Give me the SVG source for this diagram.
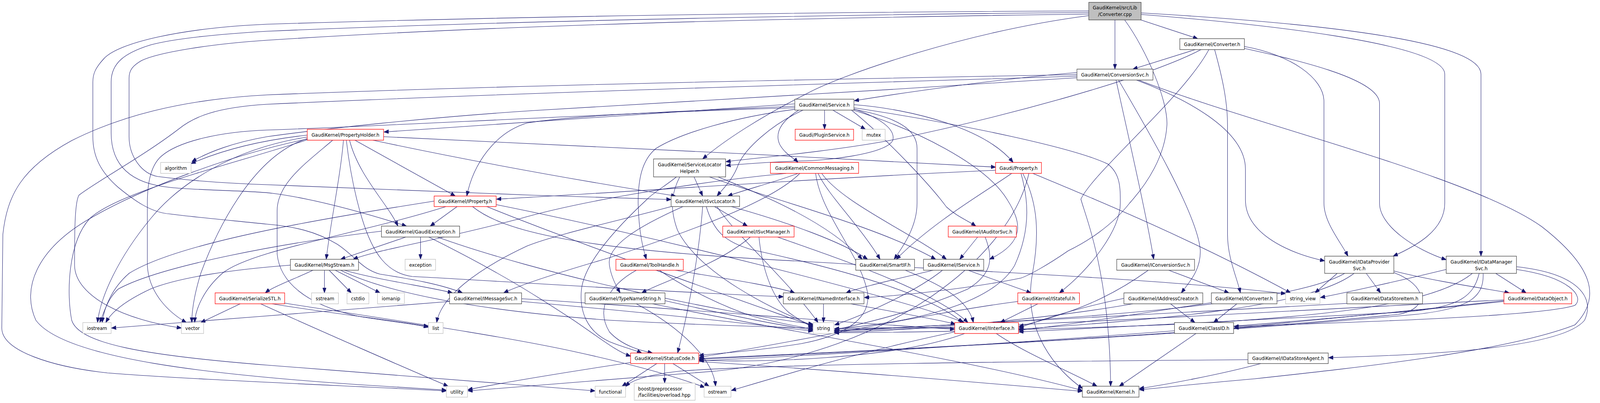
<svg xmlns="http://www.w3.org/2000/svg" width="4463" height="1032" viewBox="0 0 4463 1032">
<style>
rect{fill:#fff;stroke:#404040;stroke-width:1.3}
.r rect{stroke:#ff0000}
.g rect{stroke:#bfbfbf}
.root rect{fill:#bfbfbf}
text{font-family:"DejaVu Sans","Liberation Sans",sans-serif;font-size:12.8px;text-anchor:middle;fill:#000}
.l text{text-anchor:start}
#edges path{fill:none;stroke:#191970;stroke-width:1.1;marker-end:url(#a)}
</style>
<defs>
<marker id="a" viewBox="0 0 13 10" refX="13" refY="5" markerWidth="13" markerHeight="10" markerUnits="userSpaceOnUse" orient="auto"><path d="M0,0 L13,5 L0,10 z" fill="#191970" stroke="#191970" stroke-width="1"/></marker>
</defs>
<rect x="0" y="0" width="4463" height="1032" style="fill:#fff;stroke:none"/>
<g id="diagram" transform="scale(0.91777,1)">
<g id="edges">
<path d="M3182,51 L3341,99"/>
<path d="M3110,51 L3110,177"/>
<path d="M3183,33 C3500,50 4131,90 4131,190 L4131,656"/>
<path d="M3183,37 C3500,60 4030,110 4030,190 L4030,520 C4030,590 3950,630 3886,656"/>
<path d="M3037,40 C2700,80 2350,190 2250,240 C2120,300 2020,360 1960,407"/>
<path d="M3037,32 C2500,36 1500,50 745,80 C600,88 480,100 420,115 C350,135 310,160 310,210 L310,340 C310,420 360,470 475,480 C560,488 700,488 760,495 C870,508 1000,540 1134,579"/>
<path d="M3037,36 C2400,44 1500,58 745,103 C580,113 440,135 395,155 C370,168 360,180 360,200 L360,350 C360,400 395,445 440,452 C550,465 650,470 745,473 L1490,500 C1700,505 1800,508 1872,511"/>
<path d="M3037,28 C2400,30 1500,40 745,62 C500,72 330,110 290,150 C265,175 259,190 259,210 L259,350 C259,400 280,440 330,480 C370,510 420,545 475,548 C530,555 650,565 745,574 C820,580 880,592 940,625 C990,655 1010,690 1060,702 C1150,715 1230,728 1290,750"/>
<path d="M3137,51 C3200,130 3258,260 3255,320 C3250,400 3200,470 3151,520 C3100,580 3030,620 2980,642 C2920,680 2870,705 2848,712 C2700,740 2500,758 2411,762"/>
<path d="M3334,127 L3160,177"/>
<path d="M3388,127 C3410,200 3424,260 3424,320 L3424,600 C3424,660 3450,710 3460,750"/>
<path d="M3471,119 C3600,140 3693,200 3693,260 L3693,520 C3693,570 3740,620 3760,656"/>
<path d="M3471,124 C3600,150 3848,200 3848,265 L3848,520 C3848,580 3950,640 4034,665"/>
<path d="M3350,127 C3200,200 2800,300 2480,360 C2300,390 2100,405 2025,414"/>
<path d="M3372,127 C3300,250 3050,440 3015,510 C3030,560 3095,700 3098,989"/>
<path d="M3004,186 C2800,200 2500,240 2383,258"/>
<path d="M3004,191 C2500,200 1500,215 745,243 C500,255 330,300 200,360 C60,430 20,500 8,600 L5,840 C5,900 150,940 300,955 C500,970 900,985 1245,1001"/>
<path d="M3004,195 C2500,210 1500,235 745,267 C600,275 540,300 499,330 C400,400 260,470 220,500 C208,520 208,600 208,680 C210,760 350,820 506,840"/>
<path d="M3004,199 C2500,230 1900,260 1490,283 C1200,300 900,330 745,350 C650,365 580,390 535,414"/>
<path d="M3113,205 C3150,360 3200,560 3218,664"/>
<path d="M3120,205 C3200,330 3340,550 3348,640 C3350,690 3320,720 3295,750"/>
<path d="M3170,205 C3300,250 3474,330 3474,433 L3474,512 C3474,600 3600,650 3695,668"/>
<path d="M3176,205 C3500,320 4100,450 4300,580 C4440,680 4470,760 4393,832 C4200,900 3800,940 3500,970 C3350,982 3250,992 3178,998"/>
<path d="M2300,282 L2300,331"/>
<path d="M2323,282 L2414,331"/>
<path d="M2382,268 C2550,280 2750,330 2826,416"/>
<path d="M2382,276 C2700,320 3000,380 3090,420 C3125,445 3125,480 3125,520 C3125,590 3040,690 2955,750"/>
<path d="M2382,280 C2500,300 2558,330 2558,380 L2558,520 C2558,580 2520,630 2494,664"/>
<path d="M2375,282 C2480,360 2600,480 2640,530 C2670,555 2700,565 2722,579"/>
<path d="M2380,282 C2550,330 2750,420 2810,512 C2850,570 2860,620 2760,664"/>
<path d="M2228,282 C2180,310 2160,340 2175,370 C2190,395 2215,405 2226,416"/>
<path d="M2217,266 C1900,285 1500,310 1071,338"/>
<path d="M2382,279 C2450,300 2500,330 2490,360 C2470,395 2300,412 2235,412 C2150,415 2070,420 2025,424"/>
<path d="M2240,282 C2150,320 2080,380 2060,420 C2045,460 2015,485 2000,502"/>
<path d="M2217,280 C2050,300 1900,340 1830,380 C1790,410 1780,460 1780,520 C1782,600 1795,640 1803,664"/>
<path d="M2217,272 C1900,285 1600,295 1470,315 C1380,340 1320,420 1302,502"/>
<path d="M2217,276 C1700,290 1100,322 745,333 C620,337 500,360 450,400 C425,420 411,460 411,520 L411,680 C415,750 470,800 520,826"/>
<path d="M1070,350 C1500,367 2235,400 2777,428"/>
<path d="M990,359 L1270,502"/>
<path d="M975,359 C1000,450 1080,520 1110,579"/>
<path d="M958,359 C950,450 920,580 910,664"/>
<path d="M1040,359 C1300,410 1600,460 1885,502"/>
<path d="M966,359 C975,430 990,500 1010,560 C1040,650 1080,700 1150,708 C1400,720 1800,745 2185,760"/>
<path d="M928,359 C850,420 773,470 773,540 L773,650 C780,720 850,780 1000,810 C1100,825 1160,830 1195,838"/>
<path d="M857,346 C700,362 600,392 533,419"/>
<path d="M857,351 C650,380 500,470 420,560 C330,660 280,760 272,826"/>
<path d="M857,355 C700,400 600,600 560,700 C540,760 535,800 535,826"/>
<path d="M857,356 C650,395 400,480 250,560 C100,640 60,740 100,820 C180,920 600,960 1000,985 C1100,991 1200,996 1245,999"/>
<path d="M857,358 C650,420 330,490 250,560 C190,620 185,750 200,820 C220,880 400,910 745,935 C1100,960 1500,990 1660,1001"/>
<path d="M1936,453 L1960,502"/>
<path d="M1887,453 C1850,480 1820,495 1803,512 C1700,600 1630,680 1622,740 C1615,800 1640,850 1700,875 C1740,890 1770,896 1790,904"/>
<path d="M1896,453 C1870,500 1870,540 1890,590 C1950,700 2150,790 2270,835"/>
<path d="M2003,453 C2100,490 2300,560 2405,664"/>
<path d="M1979,453 C2150,510 2450,580 2610,664"/>
<path d="M1993,529 L2085,579"/>
<path d="M1905,529 C1780,580 1690,630 1700,680 C1705,710 1720,735 1730,750"/>
<path d="M2040,529 C2200,570 2350,620 2420,664"/>
<path d="M1970,529 C1990,590 2020,620 2100,640 C2400,700 2600,760 2685,826"/>
<path d="M1960,529 C1950,650 1920,800 1890,904"/>
<path d="M2000,529 C2050,600 2200,720 2282,826"/>
<path d="M1880,527 C1750,560 1550,600 1470,630 C1330,690 1230,760 1218,826"/>
<path d="M2093,607 C2000,680 1850,720 1790,750"/>
<path d="M2117,607 C2125,680 2150,760 2200,800 C2230,820 2250,830 2268,838"/>
<path d="M2169,607 C2300,650 2600,740 2700,826"/>
<path d="M1775,778 C1900,840 1990,920 1996,989"/>
<path d="M1855,770 C2000,800 2150,830 2268,845"/>
<path d="M1820,778 C2200,850 2700,920 3019,1000"/>
<path d="M1884,692 C2000,710 2150,730 2217,750"/>
<path d="M1839,692 C1900,730 2000,780 2100,810 C2180,830 2230,836 2268,843"/>
<path d="M1775,692 C1700,730 1660,790 1700,850 C1740,890 1800,900 1820,904"/>
<path d="M2226,444 C2150,470 2080,485 2030,502"/>
<path d="M2193,444 C1900,470 1600,520 1450,560 C1200,620 1050,640 985,664"/>
<path d="M2231,444 C2150,520 1900,600 1700,660 C1550,700 1450,730 1405,750"/>
<path d="M2282,444 C2310,500 2400,580 2455,664"/>
<path d="M2292,444 C2350,520 2550,600 2640,664"/>
<path d="M2275,444 C2290,550 2400,650 2420,750 C2430,820 2350,860 2235,880 C2100,900 2000,905 1950,910"/>
<path d="M2777,436 C2300,455 1700,495 1385,510"/>
<path d="M2822,444 C2750,490 2600,570 2500,664"/>
<path d="M2848,444 C2865,500 2880,580 2830,680 C2760,790 2500,830 2328,842"/>
<path d="M2853,444 C2895,520 2900,600 2880,700 C2850,850 2950,950 3020,995"/>
<path d="M2881,444 C3000,490 3300,600 3600,750"/>
<path d="M2870,444 C2820,650 2500,900 2000,950 C1700,970 1450,990 1305,1001"/>
<path d="M1275,529 L1200,579"/>
<path d="M1211,515 C900,560 500,620 360,700 C310,740 290,790 285,826"/>
<path d="M1244,529 C1000,600 700,640 620,700 C570,740 545,790 543,826"/>
<path d="M1384,524 C1800,600 2500,760 2690,826"/>
<path d="M1358,529 C1600,620 2100,780 2268,835"/>
<path d="M1318,529 C1400,590 1600,640 2235,669 C2600,690 3200,710 3586,752"/>
<path d="M1132,607 L950,664"/>
<path d="M1173,607 L1173,664"/>
<path d="M1064,592 C800,620 450,680 330,740 C300,765 290,800 278,826"/>
<path d="M1220,607 C1500,700 2000,800 2268,830"/>
<path d="M1196,607 C1400,700 1500,760 1600,820 C1680,870 1720,900 1759,912"/>
<path d="M960,692 C1060,718 1200,735 1262,750"/>
<path d="M873,692 C820,715 760,735 740,750"/>
<path d="M905,692 L905,750"/>
<path d="M918,692 L980,750"/>
<path d="M935,692 L1060,750"/>
<path d="M950,692 C1100,760 1400,800 1700,820 C2000,835 2200,838 2268,840"/>
<path d="M810,679 C650,690 500,710 420,740 C350,770 310,800 295,826"/>
<path d="M670,778 L560,826"/>
<path d="M727,778 C900,850 1150,950 1250,989"/>
<path d="M759,778 C900,800 1100,820 1195,836"/>
<path d="M792,776 C1100,820 1400,860 1600,900 C1800,940 1900,970 1966,992"/>
<path d="M1254,772 C1000,790 600,820 311,840"/>
<path d="M1455,765 C1900,790 2400,830 2663,843"/>
<path d="M1455,772 C1800,800 2100,830 2268,848"/>
<path d="M2297,778 L2297,826"/>
<path d="M2373,778 C2500,800 2600,815 2665,830"/>
<path d="M2603,692 C2500,715 2400,735 2360,750"/>
<path d="M2629,692 C2550,750 2400,810 2328,832"/>
<path d="M2700,692 L2876,750"/>
<path d="M2525,692 C2600,720 2700,760 2715,826"/>
<path d="M2727,607 L2677,664"/>
<path d="M2748,607 C2770,660 2770,700 2700,740 C2550,800 2400,830 2328,845"/>
<path d="M2895,778 L2790,826"/>
<path d="M2839,772 C2600,800 2200,880 1950,915"/>
<path d="M2779,854 C2850,900 2980,950 3060,989"/>
<path d="M2691,854 C2500,920 2100,930 1950,922"/>
<path d="M2663,850 C2400,900 2150,970 2040,1000"/>
<path d="M2663,840 C2500,838 2400,840 2327,842"/>
<path d="M1832,931 L1735,989"/>
<path d="M1854,931 L1854,981"/>
<path d="M1877,931 L1978,989"/>
<path d="M1761,928 C1600,950 1400,980 1305,998"/>
<path d="M1949,926 C2300,945 2800,985 3019,1002"/>
<path d="M3260,692 L3428,750"/>
<path d="M3203,692 C3100,760 3000,800 2842,836"/>
<path d="M3450,778 L3385,826"/>
<path d="M3379,775 C3200,800 3000,830 2842,846"/>
<path d="M3265,778 L3333,826"/>
<path d="M3135,764 C3000,790 2900,820 2842,840"/>
<path d="M3160,778 C2900,820 2500,850 2327,850"/>
<path d="M3336,854 L3122,989"/>
<path d="M3517,931 C3400,960 3250,985 3178,995"/>
<path d="M3481,921 C3000,925 2200,930 1900,950 C1800,960 1760,975 1745,990"/>
<path d="M3811,700 L3851,750"/>
<path d="M3888,694 C4000,720 4150,740 4210,750"/>
<path d="M3730,700 L3668,750"/>
<path d="M3751,700 C3600,780 3000,820 2327,846"/>
<path d="M3777,700 C3650,790 3200,820 2842,843"/>
<path d="M3888,698 C3980,730 3990,790 3900,805 C3300,860 2400,900 1950,918"/>
<path d="M4172,700 L4257,750"/>
<path d="M4230,683 C4400,700 4450,760 4420,820 C4350,900 3900,910 3706,916"/>
<path d="M4034,690 C3900,720 3750,750 3683,762"/>
<path d="M4230,690 C4380,710 4420,760 4393,782 C4300,810 3800,825 3442,836"/>
<path d="M4126,700 C4110,760 4070,790 3900,800 C3500,820 3000,840 2842,850"/>
<path d="M4107,700 C4000,780 3700,810 3300,830 C2900,845 2500,852 2327,852"/>
<path d="M4137,700 C4140,760 4100,790 3950,805 C3300,860 2400,900 1950,920"/>
<path d="M3757,777 C3300,800 2700,830 2327,848"/>
<path d="M4195,770 C3900,800 3600,825 3442,840"/>
<path d="M4195,772 C3500,840 2500,900 1950,924"/>
<path d="M4195,768 C3500,800 2800,840 2327,846"/>
</g>
<g id="n1" class="root"><rect x="3037" y="6" width="146" height="45"/><text x="3110" y="24">GaudiKernel/src/Lib</text><text x="3110" y="41">/Converter.cpp</text></g>
<g id="n2"><rect x="3291" y="99" width="180" height="28"/><text x="3381" y="117.6">GaudiKernel/Converter.h</text></g>
<g id="n3"><rect x="3004" y="177" width="212" height="28"/><text x="3110" y="195.6">GaudiKernel/ConversionSvc.h</text></g>
<g id="n4"><rect x="2217" y="254" width="165" height="28"/><text x="2299.5" y="272.6">GaudiKernel/Service.h</text></g>
<g id="n5" class="r"><rect x="857" y="331" width="213" height="28"/><text x="963.5" y="349.6">GaudiKernel/PropertyHolder.h</text></g>
<g id="n6"><rect x="1823" y="407" width="201" height="46"/><text x="1923.5" y="426">GaudiKernel/ServiceLocator</text><text x="1923.5" y="443">Helper.h</text></g>
<g id="n7"><rect x="1872" y="502" width="191" height="27"/><text x="1967.5" y="520">GaudiKernel/ISvcLocator.h</text></g>
<g id="n8" class="r"><rect x="2218" y="331" width="163" height="28"/><text x="2299.5" y="349.6">Gaudi/PluginService.h</text></g>
<g id="n9" class="g"><rect x="2405" y="331" width="64" height="28"/><text x="2437" y="349.6">mutex</text></g>
<g id="n10" class="r"><rect x="2149" y="416" width="246" height="28"/><text x="2272" y="434.6">GaudiKernel/CommonMessaging.h</text></g>
<g id="n11" class="r"><rect x="2777" y="416" width="128" height="28"/><text x="2841" y="434.6">Gaudi/Property.h</text></g>
<g id="n12" class="r"><rect x="1211" y="502" width="173" height="27"/><text x="1297.5" y="520">GaudiKernel/IProperty.h</text></g>
<g id="n13"><rect x="1064" y="579" width="218" height="28"/><text x="1173" y="597.6">GaudiKernel/GaudiException.h</text></g>
<g id="n14"><rect x="810" y="664" width="190" height="28"/><text x="905" y="682.6">GaudiKernel/MsgStream.h</text></g>
<g id="n15" class="g"><rect x="1130" y="664" width="85" height="28"/><text x="1172.5" y="682.6">exception</text></g>
<g id="n16" class="r"><rect x="600" y="750" width="194" height="28"/><text x="697" y="768.6">GaudiKernel/SerializeSTL.h</text></g>
<g id="n17" class="g"><rect x="869" y="750" width="75" height="28"/><text x="906.5" y="768.6">sstream</text></g>
<g id="n18" class="g"><rect x="968" y="750" width="61" height="28"/><text x="998.5" y="768.6">cstdio</text></g>
<g id="n19" class="g"><rect x="1053" y="750" width="75" height="28"/><text x="1090.5" y="768.6">iomanip</text></g>
<g id="n20"><rect x="1254" y="750" width="201" height="28"/><text x="1354.5" y="768.6">GaudiKernel/IMessageSvc.h</text></g>
<g id="n21" class="g"><rect x="1195" y="826" width="41" height="28"/><text x="1215.5" y="844.6">list</text></g>
<g id="n22" class="g"><rect x="1245" y="989" width="59" height="28"/><text x="1274.5" y="1007.6">utility</text></g>
<g id="n23" class="g"><rect x="231" y="826" width="79" height="28"/><text x="270.5" y="844.6">iostream</text></g>
<g id="n24" class="g"><rect x="506" y="826" width="62" height="28"/><text x="537" y="844.6">vector</text></g>
<g id="n25" class="g"><rect x="448" y="416" width="85" height="28"/><text x="490.5" y="434.6">algorithm</text></g>
<g id="n26" class="r"><rect x="1718" y="664" width="188" height="28"/><text x="1812" y="682.6">GaudiKernel/ToolHandle.h</text></g>
<g id="n27" class="r"><rect x="2016" y="579" width="199" height="28"/><text x="2115.5" y="597.6">GaudiKernel/ISvcManager.h</text></g>
<g id="n28"><rect x="1632" y="750" width="223" height="28"/><text x="1743.5" y="768.6">GaudiKernel/TypeNameString.h</text></g>
<g id="n29" class="r"><rect x="1759" y="904" width="190" height="27"/><text x="1854" y="922">GaudiKernel/StatusCode.h</text></g>
<g id="n30" class="g"><rect x="1660" y="989" width="85" height="28"/><text x="1702.5" y="1007.6">functional</text></g>
<g id="n31" class="g l"><rect x="1769" y="981" width="170" height="44"/><text x="1780" y="1000">boost/preprocessor</text><text x="1780" y="1016">/facilities/overload.hpp</text></g>
<g id="n32" class="g"><rect x="1964" y="989" width="75" height="28"/><text x="2001.5" y="1007.6">ostream</text></g>
<g id="n33"><rect x="2185" y="750" width="225" height="28"/><text x="2297.5" y="768.6">GaudiKernel/INamedInterface.h</text></g>
<g id="n34"><rect x="2387" y="664" width="164" height="28"/><text x="2469" y="682.6">GaudiKernel/SmartIF.h</text></g>
<g id="n35"><rect x="2576" y="664" width="168" height="28"/><text x="2660" y="682.6">GaudiKernel/IService.h</text></g>
<g id="n36" class="r"><rect x="2645" y="579" width="190" height="28"/><text x="2740" y="597.6">GaudiKernel/IAuditorSvc.h</text></g>
<g id="n37" class="r"><rect x="2839" y="750" width="172" height="28"/><text x="2925" y="768.6">GaudiKernel/IStateful.h</text></g>
<g id="n38" class="g"><rect x="2268" y="826" width="58" height="28"/><text x="2297" y="844.6">string</text></g>
<g id="n39" class="r"><rect x="2663" y="826" width="178" height="28"/><text x="2752" y="844.6">GaudiKernel/IInterface.h</text></g>
<g id="n40"><rect x="3115" y="664" width="217" height="28"/><text x="3223.5" y="682.6">GaudiKernel/IConversionSvc.h</text></g>
<g id="n41"><rect x="3135" y="750" width="220" height="28"/><text x="3245" y="768.6">GaudiKernel/IAddressCreator.h</text></g>
<g id="n42"><rect x="3379" y="750" width="183" height="28"/><text x="3470.5" y="768.6">GaudiKernel/IConverter.h</text></g>
<g id="n43" class="g"><rect x="3586" y="750" width="96" height="28"/><text x="3634" y="768.6">string_view</text></g>
<g id="n44"><rect x="3276" y="826" width="165" height="28"/><text x="3358.5" y="844.6">GaudiKernel/ClassID.h</text></g>
<g id="n45"><rect x="3481" y="904" width="224" height="27"/><text x="3593" y="922">GaudiKernel/IDataStoreAgent.h</text></g>
<g id="n46"><rect x="3019" y="989" width="158" height="28"/><text x="3098" y="1007.6">GaudiKernel/Kernel.h</text></g>
<g id="n47"><rect x="3695" y="656" width="193" height="44"/><text x="3791.5" y="675">GaudiKernel/IDataProvider</text><text x="3791.5" y="692">Svc.h</text></g>
<g id="n48"><rect x="4034" y="656" width="196" height="44"/><text x="4132" y="675">GaudiKernel/IDataManager</text><text x="4132" y="692">Svc.h</text></g>
<g id="n49"><rect x="3757" y="750" width="211" height="28"/><text x="3862.5" y="768.6">GaudiKernel/DataStoreItem.h</text></g>
<g id="n50" class="r"><rect x="4195" y="750" width="189" height="28"/><text x="4289.5" y="768.6">GaudiKernel/DataObject.h</text></g>
</g>
</svg>
